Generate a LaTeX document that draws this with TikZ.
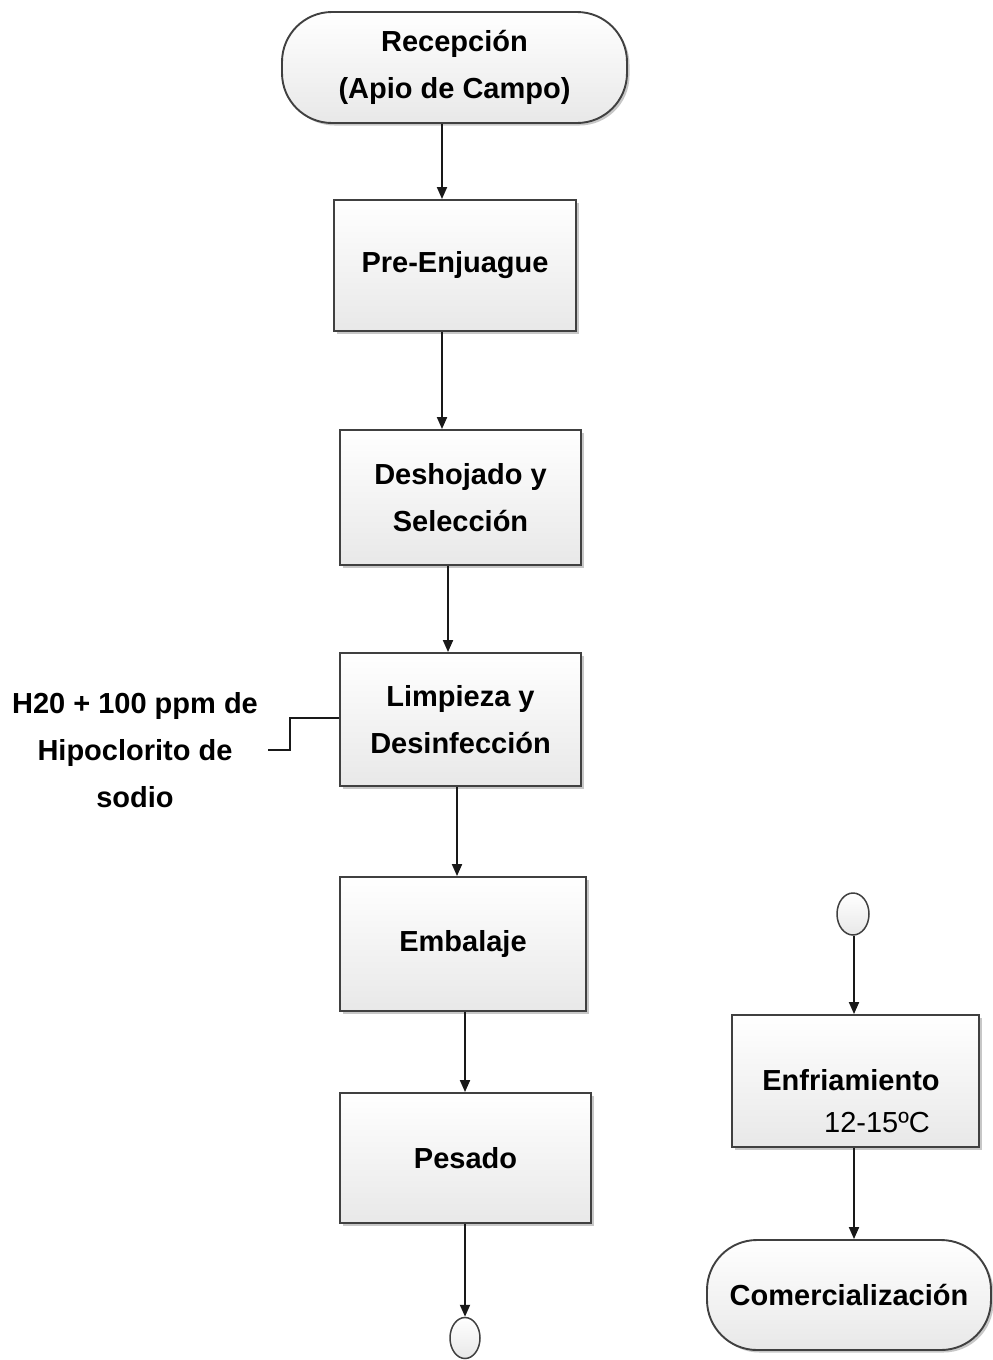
\documentclass[tikz,border=0pt]{standalone}
\usepackage{fontspec}
\setmainfont{Liberation Sans}
\usetikzlibrary{arrows.meta,shapes.geometric,shadows}
\begin{document}
\begin{tikzpicture}[x=1pt,y=-1pt,
  txt/.style={font=\fontsize{29}{47}\selectfont\bfseries, align=center, text=black},
  procbox/.style={txt, draw=black!75, line width=1.9pt, rectangle,
    top color=white, bottom color=black!9,
    general shadow={fill=black!22, shadow xshift=2.5pt, shadow yshift=-2.5pt},
    inner sep=0pt},
  termbox/.style={procbox, rounded corners=50pt},
  conn/.style={draw=black!75, line width=1.5pt, ellipse,
    top color=white, bottom color=black!9, inner sep=0pt,
    minimum width=30pt, minimum height=41pt},
  arr/.style={line width=1.9pt, draw=black!90,
    -{Triangle[width=10pt,length=12pt]}},
  feed/.style={line width=1.9pt, draw=black!90}
]
\useasboundingbox (0,0) rectangle (993,1360);

% main column
\node[termbox, minimum width=345pt, minimum height=111pt] (rec) at (454.5,67.5)
  {\raisebox{-3pt}{Recepción}\\\raisebox{-3pt}{(Apio de Campo)}};
\node[procbox, minimum width=242pt, minimum height=131pt] (pre) at (455,265.5)
  {Pre-Enjuague};
\node[procbox, minimum width=241pt, minimum height=135pt] (des) at (460.5,497.5)
  {Deshojado y\\Selección};
\node[procbox, minimum width=241pt, minimum height=133pt] (lim) at (460.5,719.5)
  {Limpieza y\\Desinfección};
\node[procbox, minimum width=246pt, minimum height=134pt] (emb) at (463,944)
  {Embalaje};
\node[procbox, minimum width=251pt, minimum height=130pt] (pes) at (465.5,1158)
  {Pesado};
\node[conn] (offA) at (465,1338) {};

% right column
\node[conn, minimum width=32pt, minimum height=42pt] (offB) at (853,914) {};
\node[procbox, minimum width=247pt, minimum height=132pt] (enf) at (855.5,1081) {};
\node[txt] (enfT) at (851,1080) {Enfriamiento};
\node[font=\fontsize{29}{47}\selectfont, text=black] (enfC) at (877,1122) {12-15ºC};
\node[termbox, minimum width=284pt, minimum height=110pt] (com) at (849,1295)
  {Comercialización};

% input to cleaning
\node[txt] (hipo) at (135,750) {H20 + 100 ppm de\\Hipoclorito de\\sodio};
\coordinate (hin) at (268,750);
\coordinate (hbend) at (290,718);

% arrow columns
\coordinate (x1) at (442,0);
\coordinate (x2) at (442,0);
\coordinate (x3) at (448,0);
\coordinate (x4) at (457,0);
\coordinate (x5) at (465,0);
\coordinate (x6) at (465,0);
\coordinate (x7) at (854,0);

\draw[arr] (rec.south -| x1) -- (pre.north -| x1);
\draw[arr] (pre.south -| x2) -- (des.north -| x2);
\draw[arr] (des.south -| x3) -- (lim.north -| x3);
\draw[arr] (lim.south -| x4) -- (emb.north -| x4);
\draw[arr] (emb.south -| x5) -- (pes.north -| x5);
\draw[arr] (pes.south -| x6) -- (offA.north);
\draw[arr] (offB.south -| x7) -- (enf.north -| x7);
\draw[arr] (enf.south -| x7) -- (com.north -| x7);

\draw[feed] (lim.west |- hbend) -- (hbend) -- (hbend |- hin) -- (hin);
\end{tikzpicture}
\end{document}
